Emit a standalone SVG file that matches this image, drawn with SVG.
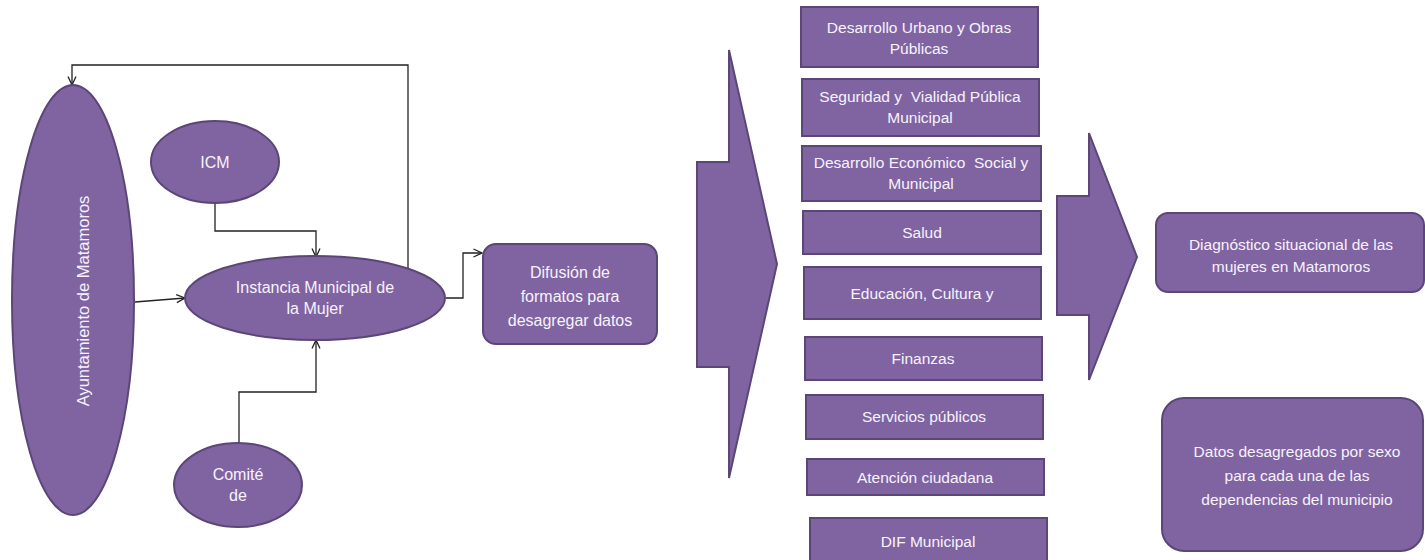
<svg xmlns="http://www.w3.org/2000/svg" width="1425" height="560" viewBox="0 0 1425 560">
<style>
.shape{fill:#8064a2;stroke:#5b4777;stroke-width:2}
.t{font-family:"Liberation Sans",Arial,sans-serif;font-size:15.5px;fill:#f7f2fc;text-anchor:middle;white-space:pre}
.t15{font-size:16px}
.c{fill:none;stroke:#222;stroke-width:1.3}
</style>
<defs>
<marker id="arr" viewBox="0 0 10 10" refX="9.5" refY="5" markerWidth="10" markerHeight="10" markerUnits="userSpaceOnUse" orient="auto">
<polyline points="1,1 9.5,5 1,9" fill="none" stroke="#222" stroke-width="1.3"/>
</marker>
</defs>
<rect width="1425" height="560" fill="#fff"/>
<g id="connectors">
<polyline class="c" points="408,270 408,65 72,65 72,85" marker-end="url(#arr)"/>
<polyline class="c" points="215,204 215,231 316,231 316,257" marker-end="url(#arr)"/>
<polyline class="c" points="135,302 185,298" marker-end="url(#arr)"/>
<polyline class="c" points="239,443 239,392 316,392 316,340" marker-end="url(#arr)"/>
<polyline class="c" points="446,298 463,298 463,253 482,253" marker-end="url(#arr)"/>
</g>
<g id="ayuntamiento">
<ellipse class="shape" cx="73" cy="300" rx="61" ry="215"/>
<text class="t" style="font-size:16.5px" transform="translate(89,301) rotate(-90)">Ayuntamiento de Matamoros</text>
</g>
<g id="icm">
<ellipse class="shape" cx="215" cy="162" rx="64" ry="41"/>
<text class="t t15" x="215" y="168">ICM</text>
</g>
<g id="instancia">
<ellipse class="shape" cx="315" cy="298" rx="130" ry="42"/>
<text class="t t15" x="315" y="293">Instancia Municipal de</text>
<text class="t t15" x="315" y="314">la Mujer</text>
</g>
<g id="comite">
<ellipse class="shape" cx="238" cy="485" rx="64" ry="42"/>
<text class="t t15" x="238" y="480">Comité</text>
<text class="t t15" x="238" y="501">de</text>
</g>
<g id="difusion">
<rect class="shape" x="483" y="244" width="174" height="100" rx="13"/>
<text class="t t15" x="570" y="278">Difusión de</text>
<text class="t t15" x="570" y="302">formatos para</text>
<text class="t t15" x="570" y="326">desagregar datos</text>
</g>
<g id="arrow-left">
<polygon class="shape" points="697,162 729,162 729,50 777,264 729,478 729,367 697,367"/>
</g>
<g id="dep1">
<rect class="shape" x="801" y="7" width="237" height="60"/>
<text class="t" x="919" y="33">Desarrollo Urbano y Obras</text>
<text class="t" x="919" y="54">Públicas</text>
</g>
<g id="dep2">
<rect class="shape" x="802" y="79" width="237" height="57"/>
<text class="t" x="920" y="102">Seguridad y  Vialidad Pública</text>
<text class="t" x="920" y="123">Municipal</text>
</g>
<g id="dep3">
<rect class="shape" x="802" y="146" width="239" height="55"/>
<text class="t" x="921" y="168">Desarrollo Económico  Social y</text>
<text class="t" x="921" y="189">Municipal</text>
</g>
<g id="dep4">
<rect class="shape" x="803" y="211" width="238" height="43"/>
<text class="t" x="922" y="238">Salud</text>
</g>
<g id="dep5">
<rect class="shape" x="804" y="267" width="237" height="52"/>
<text class="t" x="922" y="299">Educación, Cultura y</text>
</g>
<g id="dep6">
<rect class="shape" x="805" y="337" width="237" height="43"/>
<text class="t" x="923" y="364">Finanzas</text>
</g>
<g id="dep7">
<rect class="shape" x="806" y="395" width="237" height="44"/>
<text class="t" x="924" y="422">Servicios públicos</text>
</g>
<g id="dep8">
<rect class="shape" x="807" y="459" width="237" height="36"/>
<text class="t" x="925" y="483">Atención ciudadana</text>
</g>
<g id="dep9">
<rect class="shape" x="810" y="518" width="237" height="50"/>
<text class="t" x="928" y="547">DIF Municipal</text>
</g>
<g id="arrow-right">
<polygon class="shape" points="1057,196 1089,196 1089,133 1137,257 1089,380 1089,315 1057,315"/>
</g>
<g id="diagnostico">
<rect class="shape" x="1156" y="213" width="268" height="79" rx="12"/>
<text class="t" x="1291" y="250">Diagnóstico situacional de las</text>
<text class="t" x="1291" y="272">mujeres en Matamoros</text>
</g>
<g id="datos">
<rect class="shape" x="1162" y="398" width="261" height="153" rx="22"/>
<text class="t" x="1297" y="457">Datos desagregados por sexo</text>
<text class="t" x="1297" y="481">para cada una de las</text>
<text class="t" x="1297" y="505">dependencias del municipio</text>
</g>
</svg>
